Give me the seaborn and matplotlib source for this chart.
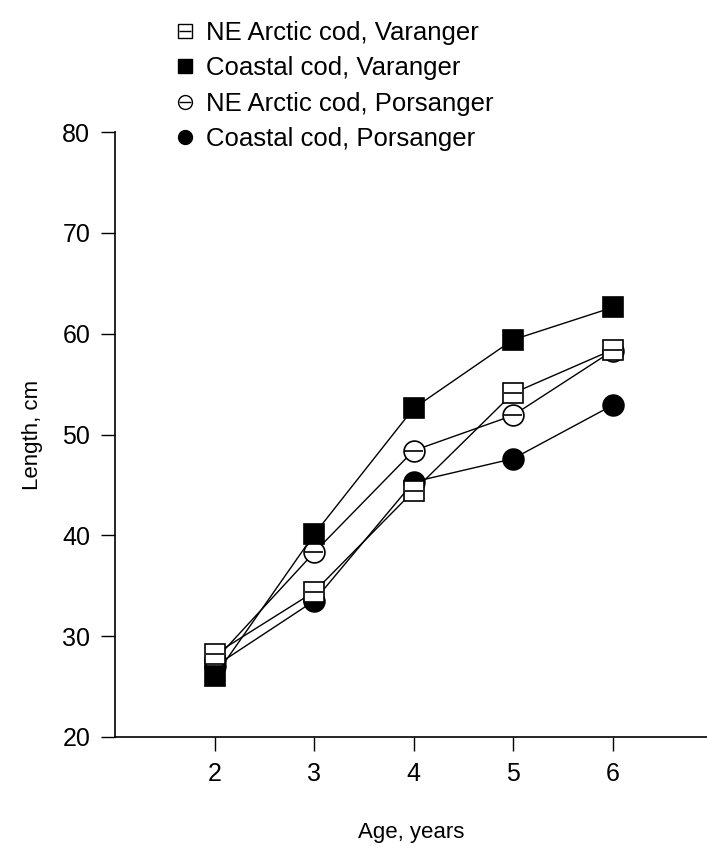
import matplotlib
matplotlib.use("Agg")
import matplotlib.pyplot as plt
import seaborn as sns
import pandas as pd
from matplotlib.lines import Line2D

ages = [2, 3, 4, 5, 6]
ne_varanger = [28.2, 34.4, 44.4, 54.1, 58.4]
coastal_varanger = [26.0, 40.1, 52.6, 59.4, 62.6]
ne_porsanger = [27.6, 38.3, 48.4, 51.9, 58.3]
coastal_porsanger = [27.0, 33.5, 45.3, 47.6, 52.9]
names = ["NE Arctic cod, Varanger", "Coastal cod, Varanger",
         "NE Arctic cod, Porsanger", "Coastal cod, Porsanger"]
x_ticks = [2, 3, 4, 5, 6]
y_ticks = [20, 30, 40, 50, 60, 70, 80]

sns.set_style("ticks")
plt.rcParams['font.family'] = ['Liberation Sans', 'DejaVu Sans']
for k in ['text.color', 'axes.labelcolor', 'xtick.color', 'ytick.color', 'axes.edgecolor']:
    plt.rcParams[k] = 'black'

fig = plt.figure(figsize=(7.07, 8.52), dpi=100)
ax = fig.add_axes([0.163, 0.135, 0.837, 0.71])

styles = {
    names[0]: dict(marker='s', fill='white', bar=True),
    names[1]: dict(marker='s', fill='black', bar=False),
    names[2]: dict(marker='o', fill='white', bar=True),
    names[3]: dict(marker='o', fill='black', bar=False),
}
data = {names[0]: ne_varanger, names[1]: coastal_varanger,
        names[2]: ne_porsanger, names[3]: coastal_porsanger}

draw_order = [names[3], names[2], names[1], names[0]]
ms = 15
for i, nm in enumerate(draw_order):
    st = styles[nm]
    df = pd.DataFrame({"age": ages, "length": data[nm]})
    sns.lineplot(data=df, x="age", y="length", ax=ax, color='black', lw=1.0,
                 marker=st['marker'], markersize=ms, markerfacecolor=st['fill'],
                 markeredgecolor='black', markeredgewidth=1.2, zorder=3 + 2 * i,
                 legend=False)
    if st['bar']:
        sns.scatterplot(data=df, x="age", y="length", ax=ax, marker='_',
                        s=(ms * 0.9) ** 2, color='black', linewidth=1.2,
                        zorder=4 + 2 * i, legend=False)

ax.set_xlim(1, 6.95)
ax.set_ylim(20, 80)
ax.set_xticks(x_ticks)
ax.set_yticks(y_ticks)
ax.tick_params(axis='both', labelsize=18, length=10, width=1.0, direction='out', pad=8)
for s in ['top', 'right']:
    ax.spines[s].set_visible(False)
for s in ['left', 'bottom']:
    ax.spines[s].set_linewidth(1.2)
ax.set_xlabel("Age, years", fontsize=16, labelpad=26)
ax.set_ylabel("Length, cm", fontsize=16, labelpad=14)

handles = []
for nm in names:
    st = styles[nm]
    base = Line2D([], [], ls='none', marker=st['marker'], markersize=10,
                  markerfacecolor=st['fill'], markeredgecolor='black', markeredgewidth=1.0)
    if st['bar']:
        bar = Line2D([], [], ls='none', marker='_', markersize=9, color='black',
                     markeredgewidth=1.0)
        handles.append((base, bar))
    else:
        handles.append(base)
fig.legend(handles, names, loc='upper left', bbox_to_anchor=(0.222, 0.997),
           frameon=False, fontsize=18.5, handlelength=0.8, handletextpad=0.4,
           labelspacing=0.45, borderaxespad=0.3)

fig.savefig("out.png", dpi=100)
